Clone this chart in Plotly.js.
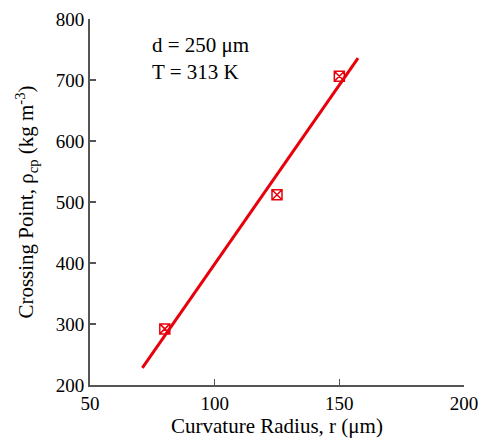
<!DOCTYPE html>
<html>
<head>
<meta charset="utf-8">
<script src="https://cdn.plot.ly/plotly-3.0.1.min.js"></script>
<style>html,body{margin:0;padding:0;background:#fff;}#chart{width:481px;height:444px;}</style>
</head>
<body>
<div id="chart"></div>
<script>
const radius = [80, 125, 150];
const crossing = [292, 512, 706];
const fitX = [71, 157.5];
const fitY = [228, 736];
const xTicks = [50, 100, 150, 200];
const yTicks = [200, 300, 400, 500, 600, 700, 800];
const red = '#e8000b';
const font = 'Liberation Serif, Times New Roman, serif';

const traces = [
  {x: fitX, y: fitY, mode: 'lines', line: {color: red, width: 3}, hoverinfo: 'skip'},
  {x: radius, y: crossing, mode: 'markers', marker: {symbol: 'square-x-open', size: 10, color: red, line: {width: 1.5, color: red}}}
];

const axisCommon = {
  showgrid: false, zeroline: false, showline: true, linecolor: '#555', linewidth: 2,
  ticks: 'inside', ticklen: 6, tickwidth: 1.5, tickcolor: '#555',
  tickfont: {family: font, size: 19, color: '#000'}, mirror: false
};

const layout = {
  width: 481, height: 444,
  margin: {l: 90, r: 17, t: 19, b: 59},
  paper_bgcolor: '#fff', plot_bgcolor: '#fff',
  showlegend: false,
  font: {family: font, color: '#000'},
  xaxis: Object.assign({}, axisCommon, {
    range: [50, 200], tickvals: xTicks, ticktext: xTicks.map(String),
    title: {text: 'Curvature Radius, r (μm)', font: {family: font, size: 21, color: '#000'}, standoff: 6}
  }),
  yaxis: Object.assign({}, axisCommon, {
    range: [200, 800], tickvals: yTicks, ticktext: yTicks.map(String),
    title: {text: 'Crossing Point, ρ<sub>cp</sub> (kg m<sup>-3</sup>)', font: {family: font, size: 21, color: '#000'}, standoff: 16}
  }),
  annotations: [
    {xref: 'paper', yref: 'paper', x: 0.16, y: 0.93, xanchor: 'left', yanchor: 'middle', showarrow: false,
     text: 'd = 250 μm', font: {family: font, size: 21, color: '#000'}},
    {xref: 'paper', yref: 'paper', x: 0.16, y: 0.855, xanchor: 'left', yanchor: 'middle', showarrow: false,
     text: 'T = 313 K', font: {family: font, size: 21, color: '#000'}}
  ]
};

Plotly.newPlot('chart', traces, layout, {displayModeBar: false, staticPlot: true});
</script>
</body>
</html>
